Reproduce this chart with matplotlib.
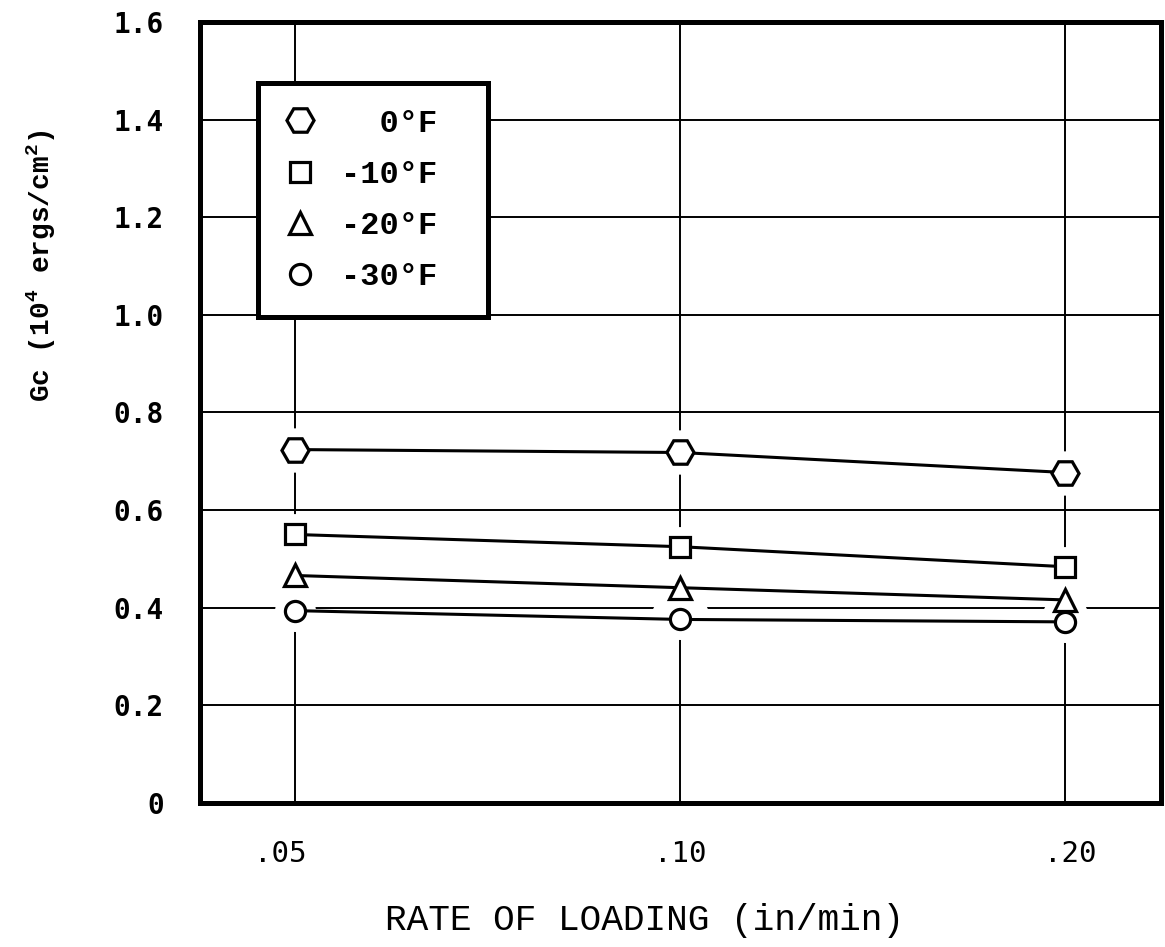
import matplotlib
matplotlib.use("Agg")
import matplotlib.pyplot as plt
from matplotlib.ticker import FixedLocator, NullLocator, FixedFormatter
import matplotlib.transforms as mtransforms

# Loading rates (in/min) and fracture energy Gc (10^4 ergs/cm^2)
rates = [0.05, 0.10, 0.20]
rate_labels = [".05", ".10", ".20"]

gc_0F = [0.724, 0.718, 0.677]
gc_m10F = [0.550, 0.525, 0.484]
gc_m20F = [0.466, 0.441, 0.416]
gc_m30F = [0.394, 0.376, 0.371]

series_labels = ["  0°F", "-10°F", "-20°F", "-30°F"]

y_ticks = [0, 0.2, 0.4, 0.6, 0.8, 1.0, 1.2, 1.4, 1.6]
y_tick_labels = ["0", "0.2", "0.4", "0.6", "0.8", "1.0", "1.2", "1.4", "1.6"]

plt.rcParams["mathtext.default"] = "regular"

fig = plt.figure(figsize=(11.65, 9.47), dpi=100)
ax = fig.add_axes([0.1717, 0.1521, 0.8249, 0.8247])

ax.set_xscale("log", base=2)
ax.set_xlim(0.0421, 0.2378)
ax.set_ylim(0, 1.6)

# grid
ax.xaxis.set_major_locator(FixedLocator(rates))
ax.xaxis.set_major_formatter(FixedFormatter(rate_labels))
ax.xaxis.set_minor_locator(NullLocator())
ax.yaxis.set_major_locator(FixedLocator(y_ticks))
ax.yaxis.set_major_formatter(FixedFormatter(y_tick_labels))
ax.yaxis.set_minor_locator(NullLocator())
ax.grid(True, color="black", linewidth=1.4, zorder=0.5)
ax.set_axisbelow(True)

for side in ax.spines.values():
    side.set_linewidth(3.6)
    side.set_color("black")

ax.tick_params(axis="both", length=0)
ax.tick_params(axis="y", pad=26)
ax.tick_params(axis="x", pad=27)
for lab in ax.get_yticklabels():
    lab.set_fontfamily("DejaVu Sans Mono")
    lab.set_fontweight("bold")
    lab.set_fontsize(20)
for lab in ax.get_xticklabels():
    lab.set_fontfamily("DejaVu Sans Mono")
    lab.set_fontsize(21)
# hand-typed x labels sit a little off their grid lines
x_label_shift_px = [-15, 0, 5]
for lab, dx in zip(ax.get_xticklabels(), x_label_shift_px):
    off = mtransforms.ScaledTranslation(dx / 100, 0, fig.dpi_scale_trans)
    lab.set_transform(lab.get_transform() + off)

specs = [
    (gc_0F, "H", 19.5),
    (gc_m10F, "s", 14.5),
    (gc_m20F, "^", 16.0),
    (gc_m30F, "o", 14.5),
]

handles = []
for vals, mk, ms in specs:
    # white halo so grid lines break around the symbols
    ax.plot(rates, vals, linestyle="none", marker=mk, markersize=ms,
            markerfacecolor="white", markeredgecolor="white",
            markeredgewidth=15, zorder=2)
for (vals, mk, ms), lab in zip(specs, series_labels):
    ax.plot(rates, vals, color="black", linewidth=2.2, zorder=3)
    h, = ax.plot(rates, vals, linestyle="none", marker=mk, markersize=ms,
                 markerfacecolor="white", markeredgecolor="black",
                 markeredgewidth=2.3, zorder=4, label=lab)
    handles.append(h)

leg = ax.legend(handles=handles, loc="upper left",
                bbox_to_anchor=(0.0604, 0.9218, 0.2393, 0.0), mode="expand",
                frameon=True, fancybox=False, shadow=False, framealpha=1,
                edgecolor="black", handlelength=1.0, handletextpad=0.8,
                borderpad=0.8, labelspacing=0.66, borderaxespad=0,
                prop={"family": "Liberation Mono", "weight": "bold", "size": 23})
leg.get_frame().set_linewidth(3.6)
leg.set_zorder(6)

ax.set_xlabel("RATE OF LOADING (in/min)", fontfamily="Liberation Mono",
              fontsize=26)
ax.xaxis.set_label_coords(0.463, -0.128)
ax.set_ylabel("Gc (10$^4$ ergs/cm$^2$)", fontfamily="Liberation Mono",
              fontweight="bold", fontsize=20)
ax.yaxis.set_label_coords(-0.148, 0.688)

fig.savefig("out.png", dpi=100, facecolor="white")
